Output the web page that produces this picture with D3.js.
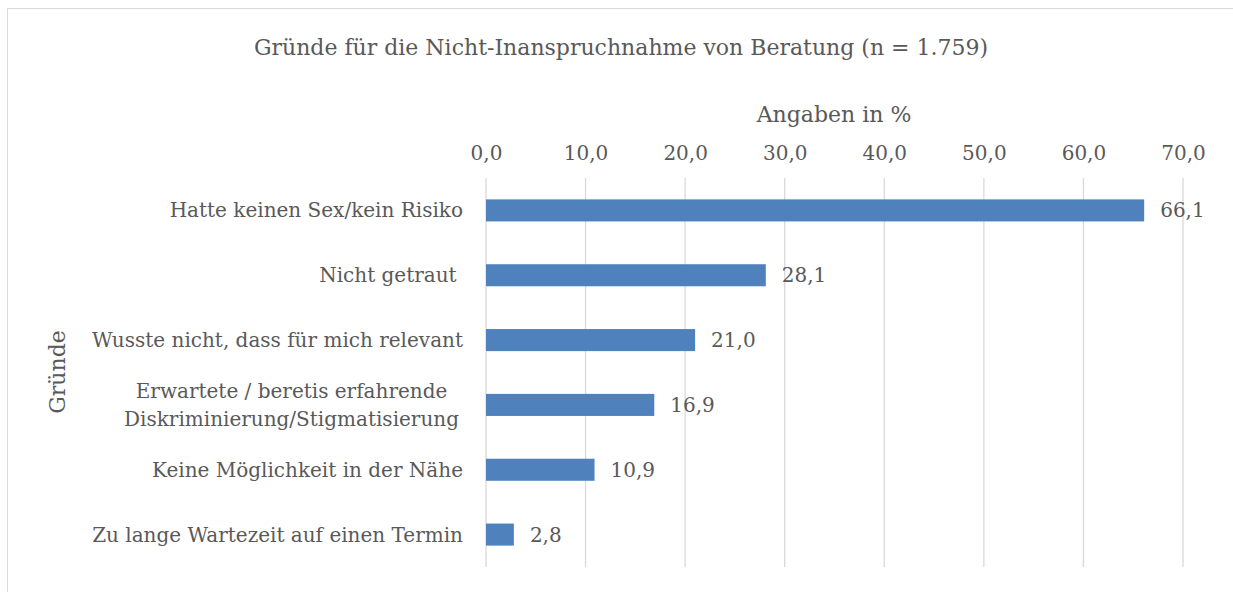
<!DOCTYPE html>
<html>
<head>
<meta charset="utf-8">
<script src="https://cdn.jsdelivr.net/npm/d3@7"></script>
<style>
  body { margin: 0; background: #fff; }
  svg text { font-family: "DejaVu Serif", serif; fill: #595959; }
</style>
</head>
<body>
<svg id="chart" width="1233" height="592"></svg>
<script>
// data
let categories = [
  "Hatte keinen Sex/kein Risiko",
  "Nicht getraut\u00a0",
  "Wusste nicht, dass für mich relevant",
  "Erwartete / beretis erfahrende|Diskriminierung/Stigmatisierung",
  "Keine Möglichkeit in der Nähe",
  "Zu lange Wartezeit auf einen Termin"
];
let values = [66.1, 28.1, 21.0, 16.9, 10.9, 2.8];
let xTicks = [0, 10, 20, 30, 40, 50, 60, 70];

let svg = d3.select("#chart");
let margin = { top: 178, right: 50, bottom: 25, left: 486 };
let plotWidth = 1183 - margin.left;
let plotHeight = 567 - margin.top;

// outer chart border
svg.append("rect")
  .attr("x", 7.5).attr("y", 8.5)
  .attr("width", 1240).attr("height", 600)
  .attr("fill", "none")
  .attr("stroke", "#d9d9d9");

let xScale = d3.scaleLinear().domain([0, 70]).range([0, plotWidth]);
let yScale = d3.scaleBand().domain(categories).range([0, plotHeight]).paddingInner(0.66).paddingOuter(0.33);

let plot = svg.append("g").attr("transform", "translate(" + margin.left + "," + margin.top + ")");

// vertical grid lines
plot.selectAll("line.grid")
  .data(xTicks)
  .enter().append("line")
  .attr("class", "grid")
  .attr("x1", d => xScale(d)).attr("x2", d => xScale(d))
  .attr("y1", 0).attr("y2", plotHeight)
  .attr("stroke", "#d9d9d9").attr("stroke-width", 1.3);

// top axis labels
let fmt = d => d.toFixed(1).replace(".", ",");
let xAxis = d3.axisTop(xScale).tickValues(xTicks).tickFormat(fmt).tickSize(0).tickPadding(18);
let xGroup = plot.append("g").call(xAxis);
xGroup.select(".domain").remove();
xGroup.selectAll("text").attr("font-size", 20).attr("fill", "#595959")
  .style("font-family", "'DejaVu Serif', serif");

// bars
plot.selectAll("rect.bar")
  .data(values)
  .enter().append("rect")
  .attr("class", "bar")
  .attr("x", 0)
  .attr("y", (d, i) => yScale(categories[i]))
  .attr("width", d => xScale(d))
  .attr("height", yScale.bandwidth())
  .attr("fill", "#4f81bd");

// value labels
plot.selectAll("text.val")
  .data(values)
  .enter().append("text")
  .attr("class", "val")
  .attr("x", d => xScale(d) + 16)
  .attr("y", (d, i) => yScale(categories[i]) + yScale.bandwidth() / 2)
  .attr("dy", "0.35em")
  .attr("font-size", 20)
  .text(d => fmt(d));

// category labels (two-line label is centred inside a right-aligned block)
let catLabels = plot.selectAll("text.cat")
  .data(categories)
  .enter().append("text")
  .attr("class", "cat")
  .attr("font-size", 20)
  .attr("transform", d => "translate(-23," + (yScale(d) + yScale.bandwidth() / 2) + ")");
catLabels.each(function(d) {
  let lines = d.split("|");
  let t = d3.select(this);
  let spans = lines.map((ln, j) => t.append("tspan")
      .attr("y", (j - (lines.length - 1) / 2) * 28)
      .attr("dy", "0.35em")
      .text(ln));
  if (lines.length > 1) {
    let maxW = d3.max(spans, s => s.node().getComputedTextLength());
    spans.forEach(s => s.attr("x", -4 - maxW / 2).attr("text-anchor", "middle"));
  } else {
    spans.forEach(s => s.attr("x", 0).attr("text-anchor", "end"));
  }
});

// titles
svg.append("text")
  .attr("x", 621).attr("y", 55)
  .attr("text-anchor", "middle")
  .attr("font-size", 22)
  .text("Gründe für die Nicht-Inanspruchnahme von Beratung (n = 1.759)");

svg.append("text")
  .attr("x", 834).attr("y", 122)
  .attr("text-anchor", "middle")
  .attr("font-size", 22)
  .text("Angaben in %");

svg.append("text")
  .attr("transform", "translate(65,372) rotate(-90)")
  .attr("text-anchor", "middle")
  .attr("font-size", 22)
  .text("Gründe");
</script>
</body>
</html>
